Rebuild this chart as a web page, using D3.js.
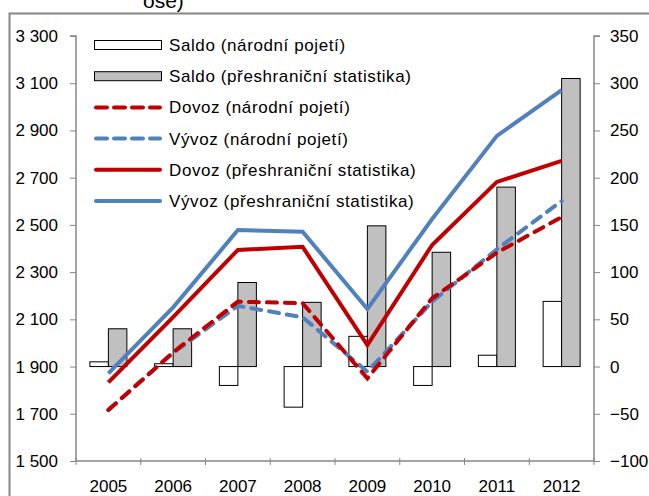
<!DOCTYPE html>
<html lang="en">
<head>
  <meta charset="UTF-8">
  <title>Saldo, dovoz a vývoz</title>
  <script src="https://d3js.org/d3.v7.min.js"></script>
  <style>
    body { margin: 0; padding: 0; overflow: hidden; background: #fff; }
    text { font-family: Arial, "Liberation Sans", sans-serif; fill: #000; }
  </style>
</head>
<body>
  <svg id="chart" width="649" height="496"></svg>

  <script>
    // Data
    const years = ["2005", "2006", "2007", "2008", "2009", "2010", "2011", "2012"];
    const saldoNarodni = [5, 3, -20, -43, 32, -20, 12, 69];
    const saldoPreshranicni = [40, 40, 89, 68, 149, 121, 190, 305];
    const dovozNarodni = [1716, 1960, 2175, 2168, 1850, 2189, 2382, 2533];
    const vyvozNarodni = [1716, 1958, 2157, 2109, 1878, 2175, 2397, 2601];
    const dovozPreshranicni = [1833, 2109, 2394, 2407, 1991, 2415, 2682, 2771];
    const vyvozPreshranicni = [1871, 2151, 2478, 2471, 2144, 2525, 2877, 3071];
    const leftTicks = [1500, 1700, 1900, 2100, 2300, 2500, 2700, 2900, 3100, 3300];
    const rightTicks = [-100, -50, 0, 50, 100, 150, 200, 250, 300, 350];

    const svg = d3.select("#chart");
    const plotL = 76, plotR = 594, plotT = 36, plotB = 461;
    const axisColor = "#868686";
    const red = "#c00000", blue = "#4f81bd";

    // outer frame (cut off at right/bottom like the source)
    svg.append("rect")
      .attr("x", 9.5).attr("y", 13.5)
      .attr("width", 700).attr("height", 600)
      .attr("fill", "none")
      .attr("stroke", axisColor)
      .attr("stroke-width", 2);

    // cut-off title fragment
    svg.append("text")
      .attr("x", 143).attr("y", 8)
      .attr("font-size", 21)
      .text("ose)");

    // Scales
    const x = d3.scaleBand().domain(years).range([plotL, plotR]);
    const yL = d3.scaleLinear().domain([1500, 3300]).range([plotB, plotT]);
    const yR = d3.scaleLinear().domain([-100, 350]).range([plotB, plotT]);
    const bw = 18.5;
    const cx = d => x(d) + x.bandwidth() / 2;

    // Bars
    const bars = svg.append("g");
    bars.selectAll(".b1")
      .data(years.map((d, i) => ({ year: d, v: saldoNarodni[i] })))
      .join("rect")
      .attr("class", "b1")
      .attr("x", d => cx(d.year) - bw)
      .attr("y", d => yR(Math.max(0, d.v)))
      .attr("width", bw)
      .attr("height", d => Math.abs(yR(d.v) - yR(0)))
      .attr("fill", "#fff")
      .attr("stroke", "#000")
      .attr("stroke-width", 1);
    bars.selectAll(".b2")
      .data(years.map((d, i) => ({ year: d, v: saldoPreshranicni[i] })))
      .join("rect")
      .attr("class", "b2")
      .attr("x", d => cx(d.year))
      .attr("y", d => yR(Math.max(0, d.v)))
      .attr("width", bw)
      .attr("height", d => Math.abs(yR(d.v) - yR(0)))
      .attr("fill", "#c0c0c0")
      .attr("stroke", "#000")
      .attr("stroke-width", 1);

    // Lines
    const series = [
      { values: dovozPreshranicni, color: red, dash: null },
      { values: vyvozPreshranicni, color: blue, dash: null },
      { values: vyvozNarodni, color: blue, dash: "10,8" },
      { values: dovozNarodni, color: red, dash: "10,8" }
    ];
    const line = d3.line().x((d, i) => cx(years[i])).y(d => yL(d));
    series.forEach(s => {
      svg.append("path")
        .attr("d", line(s.values))
        .attr("fill", "none")
        .attr("stroke", s.color)
        .attr("stroke-width", 4)
        .attr("stroke-linecap", s.dash ? "round" : "butt")
        .attr("stroke-dasharray", s.dash);
    });

    // Axes
    const axL = svg.append("g").attr("transform", `translate(${plotL},0)`)
      .call(d3.axisLeft(yL).tickValues(leftTicks).tickSize(6).tickPadding(12)
        .tickFormat(d => d3.format(",")(d).replace(",", " ")));
    const axR = svg.append("g").attr("transform", `translate(${plotR},0)`)
      .call(d3.axisRight(yR).tickValues(rightTicks).tickSize(6).tickPadding(10));
    const axX = svg.append("g").attr("transform", `translate(0,${plotB})`)
      .call(d3.axisBottom(x).tickSize(0).tickPadding(19));
    axX.selectAll(".tick line").remove();
    axX.selectAll(".xt")
      .data(d3.range(years.length + 1))
      .join("line")
      .attr("class", "xt")
      .attr("x1", i => plotL + i * x.bandwidth())
      .attr("x2", i => plotL + i * x.bandwidth())
      .attr("y1", -3).attr("y2", 4)
      .attr("stroke", axisColor);

    [axL, axR, axX].forEach(g => {
      g.select(".domain").attr("stroke", axisColor).attr("stroke-width", 1.5);
      g.selectAll(".tick line").attr("stroke", axisColor);
      g.selectAll(".tick text").attr("font-size", 17).attr("fill", "#000")
        .attr("font-family", "Arial, 'Liberation Sans', sans-serif");
    });
    axL.select(".domain").attr("d", `M-6,${plotT}H0V${plotB}`);
    axR.select(".domain").attr("d", `M6,${plotT}H0V${plotB}`);
    axX.select(".domain").attr("d", `M${plotL},0H${plotR}`);

    // Legend
    const legendItems = [
      { label: "Saldo (národní pojetí)", type: "rect", fill: "#fff" },
      { label: "Saldo (přeshraniční statistika)", type: "rect", fill: "#c0c0c0" },
      { label: "Dovoz (národní pojetí)", type: "line", color: red, dash: "11,7" },
      { label: "Vývoz (národní pojetí)", type: "line", color: blue, dash: "11,7" },
      { label: "Dovoz (přeshraniční statistika)", type: "line", color: red, dash: null },
      { label: "Vývoz (přeshraniční statistika)", type: "line", color: blue, dash: null }
    ];
    const lg = svg.append("g")
      .selectAll("g")
      .data(legendItems)
      .join("g")
      .attr("transform", (d, i) => `translate(94,${45 + i * 31.2})`);
    lg.filter(d => d.type === "rect").append("rect")
      .attr("x", 0.5).attr("y", -4.5)
      .attr("width", 67).attr("height", 9)
      .attr("fill", d => d.fill)
      .attr("stroke", "#000");
    lg.filter(d => d.type === "line").append("line")
      .attr("x1", 2).attr("x2", 66)
      .attr("stroke", d => d.color)
      .attr("stroke-width", 4)
      .attr("stroke-linecap", "round")
      .attr("stroke-dasharray", d => d.dash);
    lg.append("text")
      .attr("x", 75).attr("y", 6)
      .attr("font-size", 17)
      .attr("letter-spacing", 0.6)
      .text(d => d.label);
  </script>
</body>
</html>
